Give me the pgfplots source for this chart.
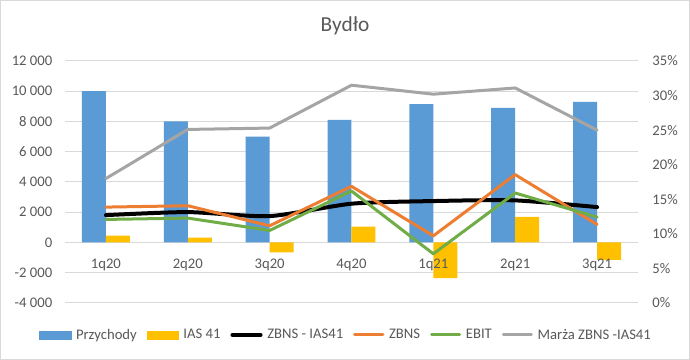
\documentclass[border=0pt]{standalone}
\usepackage{pgfplots}
\pgfplotsset{compat=1.18}
\usepackage{fontspec}
\setmainfont{Carlito}
\definecolor{cblue}{HTML}{5B9BD5}
\definecolor{cyellow}{HTML}{FFC000}
\definecolor{corange}{HTML}{ED7D31}
\definecolor{cgreen}{HTML}{70AD47}
\definecolor{cgray}{HTML}{A5A5A5}
\definecolor{ctext}{HTML}{595959}
\definecolor{cgrid}{HTML}{D9D9D9}
\pgfplotsset{
 mybase/.style={
  at={(48.75pt,42.75pt)}, anchor=south west, width=429.75pt, height=181.5pt, scale only axis,
  xmin=-0.5, xmax=6.5,
  major tick style={draw=none},
  tick label style={font=\fontsize{11}{13}\selectfont, text=ctext},
  /pgf/number format/assume math mode=true,
  clip=false,
 }
}
\begin{document}
\begin{tikzpicture}
\useasboundingbox (0,0) rectangle (517.5pt,270pt);
\fill[white] (0,0) rectangle (517.5pt,270pt);
\draw[line width=0.75pt, cgrid] (0.375pt,0.375pt) rectangle (517.125pt,269.625pt);
\node[font=\fontsize{16}{19}\selectfont, text=ctext] at (258.75pt,250.5pt) {Bydło};
\begin{axis}[
 mybase,
 ymin=-4000, ymax=12000,
 ytick={-4000,-2000,...,12000},
 scaled y ticks=false,
 xtick={0,...,6}, xticklabels=\empty,
 axis x line*=middle, axis y line*=left,
 hide obscured x ticks=false, hide obscured y ticks=false,
 x axis line style={draw=cgrid, line width=0.75pt},
 y axis line style={draw=none},
 ymajorgrids, grid style={draw=cgrid, line width=0.75pt},
 /pgf/number format/1000 sep={\ },
 yticklabel style={xshift=-6pt},
 bar width=0.293,
]
\addplot[ybar, bar shift=-0.1465, fill=cblue, draw=none] coordinates {(0,10000) (1,8000) (2,7000) (3,8100) (4,9150) (5,8900) (6,9300)};
\addplot[ybar, bar shift=0.1465, fill=cyellow, draw=none] coordinates {(0,450) (1,330) (2,-650) (3,1050) (4,-2350) (5,1700) (6,-1150)};
\addplot[black, line width=3pt, smooth, tension=0.4, line cap=round] coordinates {(0,1810) (1,2010) (2,1745) (3,2565) (4,2740) (5,2785) (6,2340)};
\addplot[corange, line width=2.25pt, line join=round, line cap=round] coordinates {(0,2340) (1,2430) (2,1105) (3,3713) (4,442) (5,4485) (6,1193)};
\addplot[cgreen, line width=2.25pt, line join=round, line cap=round] coordinates {(0,1525) (1,1614) (2,796) (3,3403) (4,-750) (5,3271) (6,1680)};
\end{axis}
\begin{axis}[
 mybase,
 ymin=0, ymax=35,
 ytick={0,5,...,35},
 yticklabel={\pgfmathprintnumber{\tick}\%},
 axis y line*=right, axis x line=none, xtick=\empty,
 y axis line style={draw=none},
 yticklabel style={xshift=7.3pt},
 legend columns=6,
 legend style={at={(axis description cs:0.4913,-0.1322)}, anchor=center, draw=none, fill=none, inner sep=0pt,
   font=\fontsize{11}{13}\selectfont, text=ctext,
   /tikz/every odd column/.append style={column sep=1.5pt},
   /tikz/every even column/.append style={column sep=5.5pt}},
]
\addlegendimage{legend image code/.code={\fill[cblue] (0pt,-3pt) rectangle (23.5pt,3pt);}}
\addlegendentry{Przychody}
\addlegendimage{legend image code/.code={\fill[cyellow] (0pt,-3pt) rectangle (23.5pt,3pt);}}
\addlegendentry{IAS 41}
\addlegendimage{legend image code/.code={\draw[black, line width=3pt, line cap=round] (1.2pt,0pt) -- (22.3pt,0pt);}}
\addlegendentry{ZBNS - IAS41}
\addlegendimage{legend image code/.code={\draw[corange, line width=2.25pt, line cap=round] (1.2pt,0pt) -- (22.3pt,0pt);}}
\addlegendentry{ZBNS}
\addlegendimage{legend image code/.code={\draw[cgreen, line width=2.25pt, line cap=round] (1.2pt,0pt) -- (22.3pt,0pt);}}
\addlegendentry{EBIT}
\addlegendimage{legend image code/.code={\draw[cgray, line width=2.25pt, line cap=round] (1.2pt,0pt) -- (22.3pt,0pt);}}
\addlegendentry{Marża ZBNS -IAS41}
\addplot[cgray, line width=2.25pt, line join=round, line cap=round] coordinates {(0,18.0) (1,25.1) (2,25.3) (3,31.5) (4,30.2) (5,31.1) (6,25.0)};
\end{axis}
\begin{axis}[
 mybase,
 ymin=-4000, ymax=12000,
 ytick=\empty,
 xtick={0,...,6}, xticklabels={1q20,2q20,3q20,4q20,1q21,2q21,3q21},
 axis x line*=middle, axis y line=none,
 hide obscured x ticks=false,
 x axis line style={draw=none},
 xticklabel style={yshift=-8.5pt},
]
\end{axis}
\end{tikzpicture}
\end{document}
